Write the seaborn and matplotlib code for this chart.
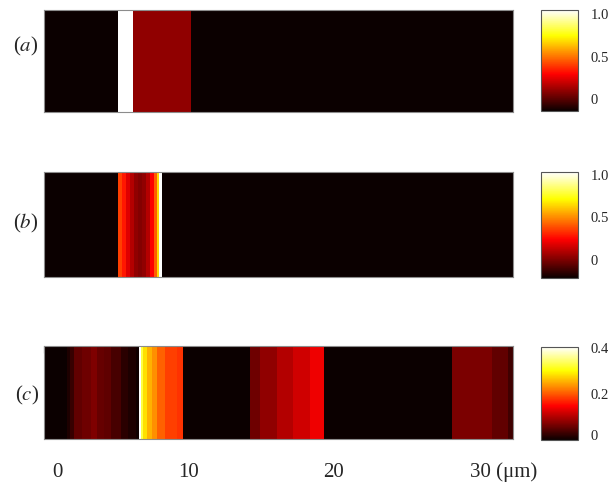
import numpy as np
import matplotlib
matplotlib.use("Agg")
import matplotlib.pyplot as plt
import seaborn as sns
from matplotlib.ticker import FixedLocator
from matplotlib.transforms import ScaledTranslation

# band edges (um) and the value inside each band
edges_a = [0, 5.10, 6.13, 10.15, 32.4]
vals_a = [0, 1.0, 0.2, 0]

edges_b = [0, 5.11, 5.39, 5.66, 5.94, 6.22, 6.49, 6.77, 7.04, 7.32, 7.60, 7.80, 7.94, 8.15, 32.4]
vals_b = [0, 0.46, 0.40, 0.32, 0.25, 0.20, 0.18, 0.20, 0.25, 0.36, 0.50, 0.68, 1.0, 0]

edges_c = [0, 1.59, 1.80, 2.07, 2.62, 3.25, 3.66, 4.14, 4.63, 5.32, 5.80, 6.35, 6.56,
           6.70, 6.84, 7.11, 7.46, 7.80, 8.36, 9.19, 9.60, 14.23, 14.92, 16.09, 17.20,
           18.37, 19.34, 28.18, 30.94, 32.04, 32.4]
vals_c = [0, 0.012, 0.028, 0.052, 0.06, 0.07, 0.056, 0.05, 0.036, 0.02, 0.012, 0.004,
          0.4, 0.324, 0.28, 0.252, 0.232, 0.204, 0.184, 0.176, 0, 0.06, 0.08, 0.1,
          0.118, 0.137, 0, 0.068, 0.052, 0.032]

panel_labels = ["(a)", "(b)", "(c)"]
cbar_max = [1.0, 1.0, 0.4]
cbar_labels = [["0", "0.5", "1.0"], ["0", "0.5", "1.0"], ["0", "0.2", "0.4"]]
x_ticks = [0, 10, 20, 30]
x_minor = [5, 15, 25]
x_labels = ["0", "10", "20", "30 (\u03bcm)"]

profiles = [(edges_a, vals_a), (edges_b, vals_b), (edges_c, vals_c)]

sns.set_theme(style="white")
plt.rcParams["font.family"] = ["Liberation Serif", "DejaVu Serif"]
plt.rcParams["mathtext.fontset"] = "stix"

W, H = 614, 486
fig = plt.figure(figsize=(W / 100, H / 100), dpi=100)


def box(l, t, r, b):
    return [l / W, 1 - b / H, (r - l) / W, (b - t) / H]


rows = [(10, 112), (172, 277), (346, 439)]
cb_rows = [(10, 111), (172, 278), (347, 440)]
# where the colorbar labels sit, as a fraction of bar height
cb_label_frac = [[0.116, 0.538, 0.963], [0.167, 0.575, 0.969], [0.054, 0.50, 0.986]]
label_y = [0.64, 0.51, 0.47]

for i, (edges, vals) in enumerate(profiles):
    t, b = rows[i]
    ax = fig.add_axes(box(44, t, 513, b))
    mesh = ax.pcolormesh(np.array(edges), [0, 1], np.array(vals)[None, :],
                         cmap="hot", vmin=0, vmax=cbar_max[i],
                         shading="flat", linewidth=0, antialiased=False)
    ax.set_xlim(edges[0], edges[-1])
    ax.set_ylim(0, 1)
    ax.set_yticks([])
    for s in ax.spines.values():
        s.set_color("#8c8c8c")
        s.set_linewidth(0.8)
    ax.text(-0.011, label_y[i], panel_labels[i][0] + "$" + panel_labels[i][1] + "$" + panel_labels[i][2],
            transform=ax.transAxes, ha="right", va="center", fontsize=15)

    if i == 2:
        ax.set_xticks(x_ticks)
        ax.set_xticks(x_minor, minor=True)
        ax.set_xticklabels(x_labels)
        ax.tick_params(axis="x", which="both", top=True, bottom=False,
                       labeltop=False, labelbottom=True, direction="in",
                       length=5, width=0.8, color="black", labelsize=15, pad=17)
        lbls = ax.get_xticklabels()
        lbls[0].set_transform(lbls[0].get_transform() +
                              ScaledTranslation(13 / 100, 0, fig.dpi_scale_trans))
        lbls[-1].set_horizontalalignment("left")
        lbls[-1].set_transform(lbls[-1].get_transform() +
                               ScaledTranslation(-8 / 100, 0, fig.dpi_scale_trans))
    else:
        ax.set_xticks([])

    ct, cbm = cb_rows[i]
    cax = fig.add_axes(box(541, ct, 578, cbm))
    cb = fig.colorbar(mesh, cax=cax)
    cb.outline.set_edgecolor("#555555")
    cb.outline.set_linewidth(0.8)
    vmax = cbar_max[i]
    cax.yaxis.set_major_locator(FixedLocator([f * vmax for f in cb_label_frac[i]]))
    cax.set_yticklabels(cbar_labels[i])
    cax.yaxis.set_minor_locator(FixedLocator([f * vmax for f in [0.21, 0.42, 0.63, 0.85]]))
    cax.tick_params(which="major", right=True, left=False, length=0,
                    labelsize=10.5, pad=9)
    cax.tick_params(which="minor", left=True, right=False, direction="in",
                    length=2, width=0.6, color="#444444")

fig.savefig("out.png", dpi=100)
